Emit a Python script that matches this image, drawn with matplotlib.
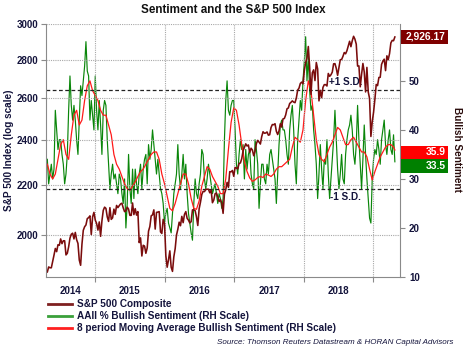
import pandas as pd
import matplotlib
matplotlib.use('Agg')
import matplotlib.pyplot as plt
from matplotlib.patches import Rectangle
from matplotlib.lines import Line2D
from matplotlib.ticker import FixedLocator, NullLocator, FuncFormatter, NullFormatter

plt.rcParams['font.family'] = ['Liberation Sans', 'DejaVu Sans']

# ---------------- data (weekly) ----------------
start_date = '2014-04-24'

spx = [1863, 1881, 1878, 1878, 1900, 1924, 1949, 1937, 1963, 1961,
       1985, 1967, 1978, 1978, 1925, 1931, 1955, 1988, 2003, 2007,
       1985, 2010, 1982, 1968, 1906, 1887, 1965, 2018, 2032, 2039,
       2064, 2068, 2075, 2002, 2071, 2089,
       2058, 2045, 2019, 2051, 1995, 2055, 2097, 2110, 2105, 2071,
       2053, 2108, 2061, 2067, 2102, 2081, 2117, 2108, 2116, 2123,
       2126, 2107, 2092, 2094, 2110, 2102, 2077, 2077, 2127, 2080,
       2104, 2078, 2092, 1971, 1989, 1921, 1961, 1958, 1931, 1951,
       2015, 2033, 2075, 2079, 2099, 2023, 2089, 2090, 2092, 2012,
       2006, 2061, 2044,
       1922, 1880, 1907, 1940, 1880, 1865, 1918, 1948, 2000, 2022,
       2050, 2036, 2073, 2048, 2081, 2092, 2065, 2058, 2047, 2052,
       2099, 2099, 2096, 2071, 2037, 2103, 2130, 2162, 2175, 2174,
       2183, 2184, 2184, 2169, 2180, 2128, 2139, 2165, 2168, 2153,
       2133, 2141, 2126, 2085, 2164, 2182, 2213, 2192, 2259, 2258,
       2264, 2239,
       2277, 2275, 2271, 2295, 2297, 2316, 2351, 2367, 2383, 2373,
       2378, 2344, 2363, 2355, 2329, 2349, 2384, 2399, 2391, 2382,
       2416, 2439, 2432, 2433, 2438, 2423, 2425, 2459, 2473, 2472,
       2477, 2441, 2426, 2443, 2477, 2461, 2500, 2502, 2519, 2549,
       2553, 2575, 2581, 2588, 2582, 2579, 2602, 2642, 2652, 2676,
       2683, 2674,
       2743, 2786, 2810, 2873, 2762, 2620, 2732, 2747, 2691, 2786,
       2752, 2588, 2641, 2604, 2656, 2670, 2670, 2663, 2728, 2713,
       2721, 2735, 2779, 2780, 2755, 2718, 2760, 2801, 2802, 2819,
       2840, 2833, 2850, 2875, 2902, 2872, 2905, 2930, 2914, 2886,
       2767, 2768, 2659, 2723, 2781, 2736, 2633, 2760, 2633, 2600,
       2417, 2486,
       2532, 2596, 2671, 2665, 2707, 2708, 2776, 2793, 2804, 2743,
       2822, 2801, 2834, 2893, 2907, 2905, 2926.17]

bullish = [34, 29, 31, 33, 30, 32, 44, 40, 36, 38,
           38, 35, 33, 29, 31, 35, 44, 51, 45, 42,
           45, 42, 38, 35, 42, 49, 47, 50, 53, 58,
           52, 51, 42, 46, 43, 40, 51, 44, 40, 46,
           41, 35, 44, 46, 45,
           38, 33, 28, 31, 33, 30, 31, 29, 27, 31,
           30, 27, 25, 30, 20, 25, 35, 28, 25, 32,
           26, 32, 29, 27, 31, 33, 28, 32, 34, 35,
           29, 37, 34, 36, 40, 37, 34, 31, 34, 31,
           28, 27, 25, 21, 23,
           24, 21, 20, 19, 23, 27, 29, 31, 37, 31,
           28, 31, 35, 30, 33, 27, 23, 21, 19, 17.5,
           25, 30, 27, 26, 29, 31, 36, 35, 30, 28,
           30, 33, 31, 29, 27, 28, 29, 27, 25, 27,
           26, 24, 26, 38, 46,
           50, 44, 43, 45, 46, 46, 40, 33, 31, 35,
           38, 36, 37, 30, 36, 32, 35, 36, 31, 29,
           28, 38, 36, 33, 24, 29, 33, 33, 30, 29,
           33, 31, 35, 36, 34, 32, 30, 25, 31, 37,
           41, 42, 40,
           40, 38, 35, 33, 40, 43, 45, 40, 33, 29,
           38, 42, 46, 44, 50, 54, 59, 50, 55, 48,
           44, 45, 40, 37, 33, 26, 31, 37, 32, 28,
           34, 33, 38, 31, 26, 30, 34, 38, 44, 38,
           32, 28, 31, 35, 30, 29, 35,
           38, 40, 41, 43, 40, 35, 33, 37, 45, 38,
           33, 28, 34, 41, 35, 30, 26, 22, 21, 30,
           34, 36, 35, 38, 36, 33, 38, 40, 42, 37,
           35, 38, 40, 36, 35, 39, 33.5]

# 8 period moving average, read every other week plus the latest week
bullish_ma = [33, 31, 30, 31, 34, 37, 38, 35, 34, 39,
              43, 44, 41, 42, 46, 49, 50, 48, 47, 46,
              44, 43, 43, 41, 39, 35, 33, 32, 30.5, 29,
              28, 27.7, 28.5, 29.4, 30.5, 31.5, 32, 33, 34, 35,
              35.5, 35.5, 34, 31, 29, 26.5, 24, 23.5, 25, 27,
              29, 31, 31, 29, 26, 24, 23.8, 25.5, 28.5, 30.5,
              32.5, 32, 30.5, 29.5, 28.5, 27, 27, 30, 36, 41.5,
              44.5, 44, 41, 37, 33.5, 31.5, 30.2, 29.5, 29.8, 30.3,
              30.5, 30.3, 31, 30.8, 30.5, 31, 32, 32.5, 32.5, 33,
              33.5, 34, 36.5, 38.5, 38, 37.5, 40, 46, 50, 48,
              43, 38, 35, 34, 33.5, 35, 36.5, 37.5, 39, 40.5,
              40, 38.5, 37, 37, 38, 38.5, 37.5, 36.5, 35.5, 35.5,
              34.5, 32, 29.8, 31.5, 33, 34.5, 35.5, 36.5, 37, 37,
              36.5, 35.9]

sd_plus = 48.2
sd_minus = 27.9

year_bounds = ['2015-01-01', '2016-01-01', '2017-01-01', '2018-01-01', '2019-01-01']
year_label_pos = ['2014-08-25', '2015-07-02', '2016-07-02', '2017-07-02', '2018-07-02']
year_labels = ['2014', '2015', '2016', '2017', '2018']
spx_ticks = [2000, 2200, 2400, 2600, 2800, 3000]
sent_ticks = [10, 20, 30, 40, 50]

# ---------------- colours ----------------
c_spx = '#7a0c0c'
c_bull = '#0a860a'
c_ma = '#ff1a1a'
c_text = '#14143c'
c_grid = '#a8a8a8'
c_spine = '#8a8a8a'

dates = pd.date_range(start_date, periods=len(spx), freq='7D')
ma_dates = list(dates[::2]) + [dates[-1]]

fig = plt.figure(figsize=(4.66, 3.48), dpi=100)
ax = fig.add_axes([46/466, 1-277/348, 354/466, 253/348])
ax2 = ax.twinx()
ax.set_zorder(ax2.get_zorder() + 1)
ax.patch.set_visible(False)

# sentiment on the right scale
ax2.plot(dates, bullish, color=c_bull, lw=0.85)
ax2.plot(ma_dates, bullish_ma, color=c_ma, lw=0.9)
ax2.axhline(sd_plus, color='#222222', ls=(0, (3, 2)), lw=0.9)
ax2.axhline(sd_minus, color='#222222', ls=(0, (3, 2)), lw=0.9)
ax2.set_ylim(10, 61.6)
ax2.set_yticks(sent_ticks)

# S&P on the left log scale
ax.plot(dates, spx, color=c_spx, lw=1.15)
ax.set_yscale('log')
ax.set_ylim(1845, 3000)
ax.yaxis.set_major_locator(FixedLocator(spx_ticks))
ax.yaxis.set_minor_locator(NullLocator())
ax.yaxis.set_major_formatter(FuncFormatter(lambda v, p: '%d' % v))
ax.yaxis.set_minor_formatter(NullFormatter())

ax.set_xlim(pd.Timestamp('2014-04-17'), pd.Timestamp('2019-05-22'))
ax.set_xticks(pd.to_datetime(year_bounds))
ax.xaxis.set_major_formatter(NullFormatter())
ax.set_xticks(pd.to_datetime(year_label_pos), minor=True)
ax.set_xticklabels(year_labels, minor=True)

ax.grid(True, which='major', axis='both', color=c_grid, ls=(0, (1, 1)), lw=0.8)
ax.set_axisbelow(True)

tick_font = dict(labelsize=7.0, labelcolor=c_text)
ax.tick_params(axis='x', which='minor', length=0, pad=6.5, **tick_font)
ax.tick_params(axis='x', which='major', length=3.5, color=c_spine, direction='out')
ax.tick_params(axis='y', which='major', length=3.5, color=c_spine, pad=2, **tick_font)
ax2.tick_params(axis='y', length=3.5, color=c_spine, pad=3, **tick_font)
for lab in ax.get_xticklabels(minor=True) + ax.get_yticklabels() + ax2.get_yticklabels():
    lab.set_fontweight('bold')

for s in ['top', 'right']:
    ax.spines[s].set_visible(False)
for s in ['top', 'left', 'bottom']:
    ax2.spines[s].set_visible(False)
ax.spines['left'].set_color(c_spine)
ax.spines['bottom'].set_color(c_spine)
ax2.spines['right'].set_color(c_spine)

# S.D. labels
ax2.annotate('+1 S.D.', xy=(0.847, sd_plus), xycoords=('axes fraction', 'data'),
             xytext=(0, 5.5), textcoords='offset points', ha='center', va='center',
             fontsize=7.2, fontweight='bold', color=c_text)
ax2.annotate('-1 S.D.', xy=(0.847, sd_minus), xycoords=('axes fraction', 'data'),
             xytext=(0, -5.5), textcoords='offset points', ha='center', va='center',
             fontsize=7.2, fontweight='bold', color=c_text)

# value tags on the right edge
to_fig = fig.transFigure.inverted()
box_h = 13.5


def tag(center_px, text, color):
    y0 = to_fig.transform((0, center_px - box_h / 2))[1]
    y1 = to_fig.transform((0, center_px + box_h / 2))[1]
    fig.patches.append(Rectangle((401/466, y0), 47/466, y1 - y0, transform=fig.transFigure,
                                 facecolor=color, edgecolor='none'))
    fig.text(446/466, (y0 + y1) / 2, text, ha='right', va='center', color='white',
             fontsize=7.4, fontweight='bold')


spx_px = ax.transData.transform((0, spx[-1]))[1]
tag(spx_px, '{:,.2f}'.format(spx[-1]), '#7f0000')
ma_px = ax2.transData.transform((0, bullish_ma[-1]))[1] - 2.4
tag(ma_px, '%.1f' % bullish_ma[-1], '#ff0000')
tag(ma_px - box_h, '%.1f' % bullish[-1], '#008000')

# titles and axis labels
fig.text(233/466, 1-10/348, 'Sentiment and the S&P 500 Index', ha='center', va='center',
         fontsize=8.4, fontweight='bold', color='#111111')
fig.text(9/466, 1-150/348, 'S&P 500 Index (log scale)', rotation=90, ha='center', va='center',
         fontsize=7.2, fontweight='bold', color=c_text)
fig.text(457/466, 1-149/348, 'Bullish Sentiment', rotation=270, ha='center', va='center',
         fontsize=7.2, fontweight='bold', color='#2a0c0c')

handles = [Line2D([], [], color='#7f2020', lw=2),
           Line2D([], [], color='#3aa03a', lw=2),
           Line2D([], [], color='#ff2020', lw=2)]
labels = ['S&P 500 Composite', 'AAII % Bullish Sentiment (RH Scale)',
          '8 period Moving Average Bullish Sentiment (RH Scale)']
fig.legend(handles, labels, loc='upper left', bbox_to_anchor=(48/466, 1-299/348),
           frameon=False, prop={'size': 7.2, 'weight': 'bold'}, handlelength=2.4,
           handletextpad=0.5, labelspacing=0.22, borderpad=0, borderaxespad=0,
           labelcolor=c_text)

fig.text(453/466, 1-342/348, 'Source: Thomson Reuters Datastream & HORAN Capital Advisors',
         ha='right', va='center', fontsize=5.8, style='italic', color=c_text)

fig.savefig('out.png', dpi=100, facecolor='white')
